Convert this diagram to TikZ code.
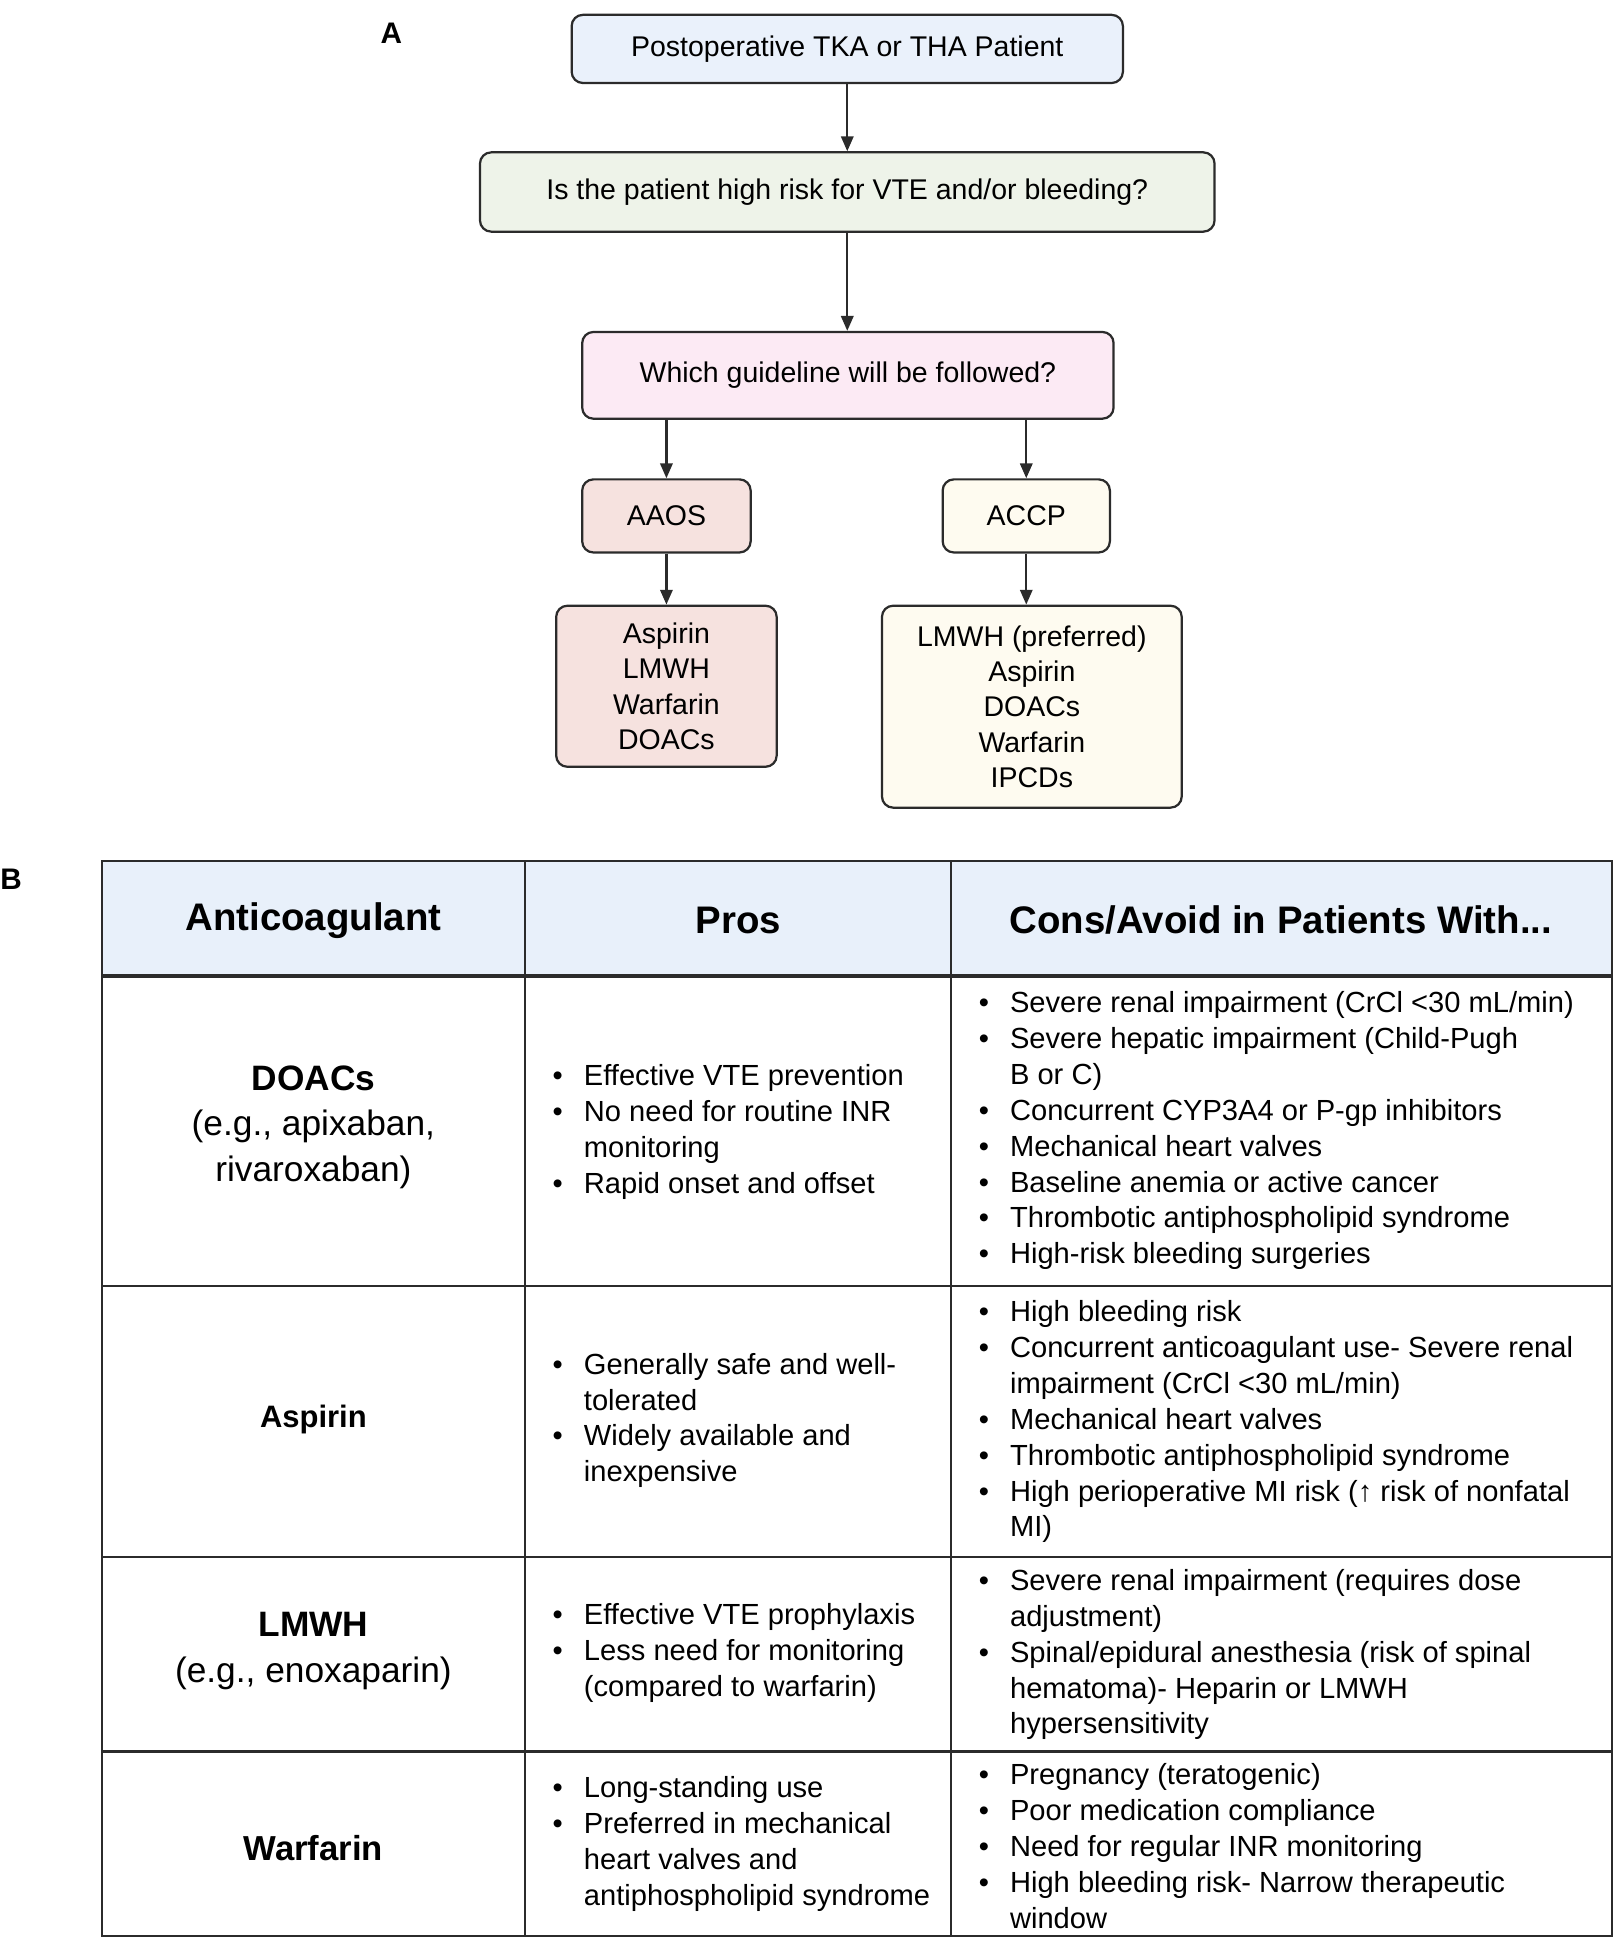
\documentclass[tikz,border=0pt]{standalone}
\usepackage{fontspec}
\setmainfont{Liberation Sans}
\usetikzlibrary{arrows.meta}
\definecolor{ink}{HTML}{2B2B2B}
\definecolor{cA}{HTML}{EAF1FB}
\definecolor{cB}{HTML}{EEF3E9}
\definecolor{cC}{HTML}{FCEAF4}
\definecolor{cD}{HTML}{F6E2DF}
\definecolor{cE}{HTML}{FEFBF0}
\definecolor{cH}{HTML}{E8F0FA}
\newcommand\fs[2]{\fontsize{#1}{#2}\selectfont}
\newcommand\blist[1]{\begin{tabular}{@{}l@{\hspace{17pt}}l@{}}#1\end{tabular}}
\begin{document}
\begin{tikzpicture}[x=1pt,y=-1pt,
  fbox/.style={draw=ink,line width=1.8pt,rounded corners=9pt,inner sep=0pt,align=center,font=\fs{23}{28.5}},
  arr/.style={draw=ink,line width=1.8pt,-{Triangle[length=12pt,width=10pt]}},
  lab/.style={font=\bfseries\fs{24}{28}},
  hdr/.style={font=\bfseries\fs{31}{36}},
  rowlab/.style={align=center,font=\fs{28.5}{37}},
  cell/.style={anchor=west,inner sep=0pt,font=\fs{23.5}{29}},
  grid/.style={draw=ink,line width=1.6pt}]
\useasboundingbox (0,0) rectangle (1310,1571);
% ---- Part A
\node[lab] (labA) at (316,27) {A};
\node[fbox,fill=cA,minimum width=445pt,minimum height=55pt] (b1) at (684,39.5) {Postoperative TKA or THA Patient};
\node[fbox,fill=cB,minimum width=593pt,minimum height=64pt] (b2) at (684,155) {Is the patient high risk for VTE and/or bleeding?};
\node[fbox,fill=cC,minimum width=429pt,minimum height=70pt] (b3) at (684.5,303) {Which guideline will be followed?};
\node[fbox,fill=cD,minimum width=136pt,minimum height=59pt] (aaos) at (538,416.5) {AAOS};
\node[fbox,fill=cE,minimum width=135pt,minimum height=59pt] (accp) at (828.5,416.5) {ACCP};
\node[fbox,fill=cD,minimum width=178pt,minimum height=130pt] (l1) at (538,554) {Aspirin\\LMWH\\Warfarin\\DOACs};
\node[fbox,fill=cE,minimum width=242pt,minimum height=163pt] (l2) at (833,570.5) {LMWH (preferred)\\Aspirin\\DOACs\\Warfarin\\IPCDs};
\draw[arr] (b1.south) -- (b2.north);
\draw[arr] (b2.south) -- (b2.south |- b3.north);
\draw[arr] (aaos.north |- b3.south) -- (aaos.north);
\draw[arr] (accp.north |- b3.south) -- (accp.north);
\draw[arr] (aaos.south) -- (l1.north);
\draw[arr] (accp.south) -- (accp.south |- l2.north);
% ---- Part B
\node[lab] (labB) at (9,710) {B};
\fill[cH] (82,695) rectangle (1301,788);
\draw[grid] (82,695) rectangle (1301,1563);
\draw[grid] (424,695) -- (424,1563);
\draw[grid] (768,695) -- (768,1563);
\draw[grid,line width=2.6pt] (82,788) -- (1301,788);
\draw[grid,line width=2pt] (82,1038) -- (1301,1038);
\draw[grid,line width=2pt] (82,1257) -- (1301,1257);
\draw[grid,line width=2pt] (82,1414) -- (1301,1414);
\node[hdr] (h1) at (253,743) {Anticoagulant};
\node[hdr] (h2) at (596,743) {Pros};
\node[hdr] (h3) at (1034,743) {Cons/Avoid in Patients With...};
% row labels
\node[rowlab] (r1) at (253,910) {\textbf{DOACs}\\(e.g., apixaban,\\rivaroxaban)};
\node[font=\bfseries\fs{25}{29}] (r2) at (253,1146) {Aspirin};
\node[rowlab] (r3) at (253,1333) {\textbf{LMWH}\\(e.g., enoxaparin)};
\node[font=\bfseries\fs{28}{34}] (r4) at (253,1492) {Warfarin};
% pros
\node[cell] (p1) at (446,914) {\blist{\textbullet & Effective VTE prevention\\ \textbullet & No need for routine INR\\ & monitoring\\ \textbullet & Rapid onset and offset}};
\node[cell] (p2) at (446,1147) {\blist{\textbullet & Generally safe and well-\\ & tolerated\\ \textbullet & Widely available and\\ & inexpensive}};
\node[cell] (p3) at (446,1335) {\blist{\textbullet & Effective VTE prophylaxis\\ \textbullet & Less need for monitoring\\ & (compared to warfarin)}};
\node[cell] (p4) at (446,1489) {\blist{\textbullet & Long-standing use\\ \textbullet & Preferred in mechanical\\ & heart valves and\\ & antiphospholipid syndrome}};
% cons
\node[cell] (c1) at (790,913) {\blist{\textbullet & Severe renal impairment (CrCl <30 mL/min)\\ \textbullet & Severe hepatic impairment (Child-Pugh\\ & B or C)\\ \textbullet & Concurrent CYP3A4 or P-gp inhibitors\\ \textbullet & Mechanical heart valves\\ \textbullet & Baseline anemia or active cancer\\ \textbullet & Thrombotic antiphospholipid syndrome\\ \textbullet & High-risk bleeding surgeries}};
\node[cell] (c2) at (790,1148) {\blist{\textbullet & High bleeding risk\\ \textbullet & Concurrent anticoagulant use- Severe renal\\ & impairment (CrCl <30 mL/min)\\ \textbullet & Mechanical heart valves\\ \textbullet & Thrombotic antiphospholipid syndrome\\ \textbullet & High perioperative MI risk (↑ risk of nonfatal\\ & MI)}};
\node[cell] (c3) at (790,1336) {\blist{\textbullet & Severe renal impairment (requires dose\\ & adjustment)\\ \textbullet & Spinal/epidural anesthesia (risk of spinal\\ & hematoma)- Heparin or LMWH\\ & hypersensitivity}};
\node[cell] (c4) at (790,1493) {\blist{\textbullet & Pregnancy (teratogenic)\\ \textbullet & Poor medication compliance\\ \textbullet & Need for regular INR monitoring\\ \textbullet & High bleeding risk- Narrow therapeutic\\ & window}};
\end{tikzpicture}
\end{document}
